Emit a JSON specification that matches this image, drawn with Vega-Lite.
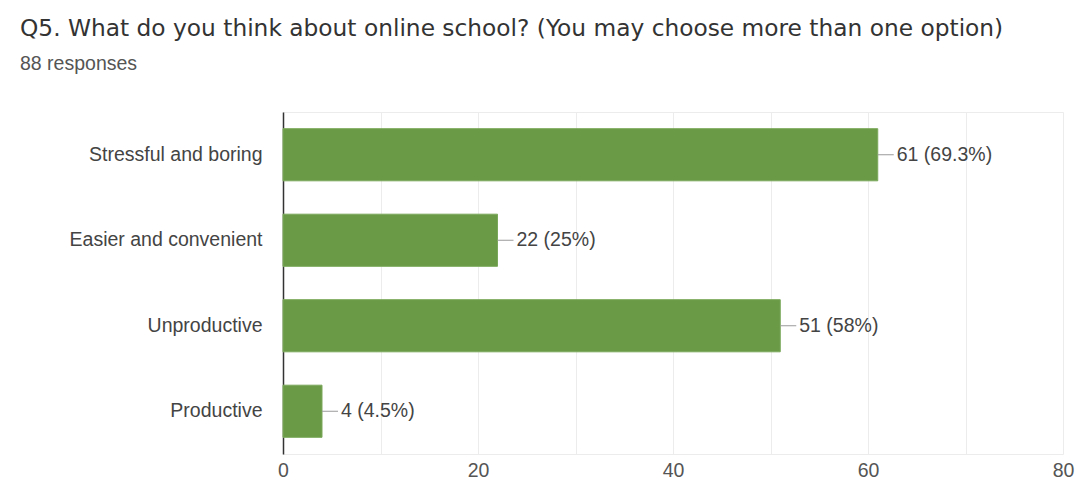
{
  "$schema": "https://vega.github.io/schema/vega-lite/v6.json",
  "width": 780,
  "height": 342,
  "autosize": {"type": "none"},
  "padding": {"left": 283, "top": 112, "right": 14, "bottom": 34},
  "background": "white",
  "title": {
    "text": "Q5. What do you think about online school? (You may choose more than one option)",
    "subtitle": "88 responses",
    "anchor": "start",
    "frame": "group",
    "orient": "top",
    "dx": -263,
    "offset": 38,
    "font": "DejaVu Sans",
    "fontSize": 23.3,
    "fontWeight": "normal",
    "color": "#333333",
    "subtitleFont": "Liberation Sans",
    "subtitleFontSize": 19.5,
    "subtitleColor": "#555555",
    "subtitlePadding": 13
  },
  "data": {
    "values": [
      {"option": "Stressful and boring", "count": 61, "label": "61 (69.3%)"},
      {"option": "Easier and convenient", "count": 22, "label": "22 (25%)"},
      {"option": "Unproductive", "count": 51, "label": "51 (58%)"},
      {"option": "Productive", "count": 4, "label": "4 (4.5%)"}
    ]
  },
  "encoding": {
    "y": {
      "field": "option",
      "type": "nominal",
      "sort": null,
      "scale": {"paddingInner": 0.39, "paddingOuter": 0.195},
      "axis": {
        "title": null,
        "ticks": false,
        "tickSize": 0,
        "labelPadding": 21,
        "labelLimit": 400,
        "labelFont": "Liberation Sans",
        "labelFontSize": 19.5,
        "labelColor": "#444444",
        "domainColor": "#333333",
        "domainWidth": 1.5,
        "grid": false
      }
    }
  },
  "layer": [
    {
      "mark": {"type": "bar", "color": "#6b9a47", "stroke": "#7aa85a", "strokeWidth": 1},
      "encoding": {
        "x": {
          "field": "count",
          "type": "quantitative",
          "scale": {"domain": [0, 80], "nice": false},
          "axis": {
            "title": null,
            "values": [0, 10, 20, 30, 40, 50, 60, 70, 80],
            "labelExpr": "datum.value % 20 == 0 ? datum.label : ''",
            "ticks": false,
            "tickSize": 0,
            "domain": false,
            "labelPadding": 7,
            "labelFont": "Liberation Sans",
            "labelFontSize": 19.5,
            "labelColor": "#555555",
            "gridColor": "#ececec",
            "gridWidth": 1,
            "labelFlush": false
          }
        }
      }
    },
    {
      "mark": {"type": "rule", "color": "#9a9a9a", "strokeWidth": 1, "x2Offset": 16},
      "encoding": {
        "x": {"field": "count", "type": "quantitative"},
        "x2": {"field": "count"}
      }
    },
    {
      "mark": {"type": "text", "align": "left", "baseline": "middle", "dx": 19, "font": "Liberation Sans", "fontSize": 19.5, "color": "#444444"},
      "encoding": {
        "x": {"field": "count", "type": "quantitative"},
        "text": {"field": "label"}
      }
    }
  ],
  "config": {
    "view": {"stroke": "#ececec"}
  }
}
